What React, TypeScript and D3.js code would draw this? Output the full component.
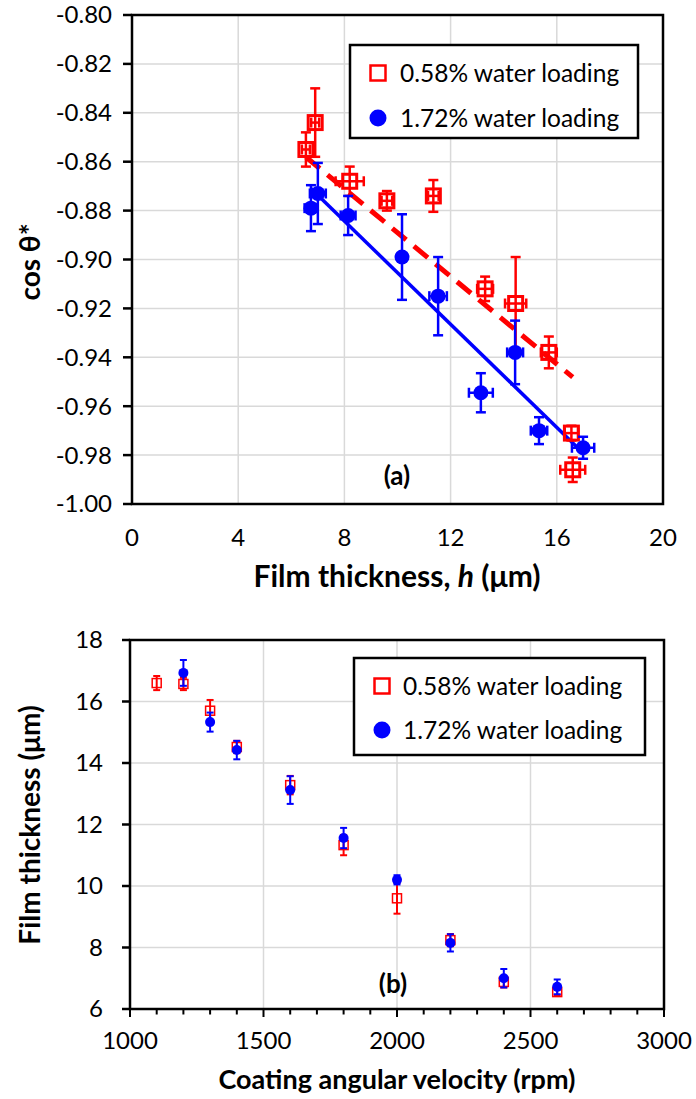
import React, { useRef, useEffect } from "react";
import * as d3 from "d3";

// panel (a): cos theta* against film thickness
const thickLow = [6.55, 6.9, 8.2, 9.6, 11.35, 13.3, 14.45, 15.7, 16.55, 16.6];
const thickLowErr = [0.15, 0.15, 0.53, 0.2, 0.2, 0.3, 0.4, 0.3, 0.25, 0.47];
const cosLow = [-0.855, -0.844, -0.868, -0.876, -0.874, -0.912, -0.918, -0.938, -0.971, -0.986];
const cosLowErr = [0.007, 0.014, 0.006, 0.004, 0.0065, 0.005, 0.019, 0.0065, 0.003, 0.005];

const thickHigh = [6.74, 7.0, 8.14, 10.17, 11.53, 13.14, 14.43, 15.33, 16.99];
const thickHighErr = [0.24, 0.3, 0.28, 0.15, 0.33, 0.45, 0.3, 0.31, 0.42];
const cosHigh = [-0.879, -0.873, -0.882, -0.899, -0.915, -0.9545, -0.938, -0.97, -0.977];
const cosHighErr = [0.0094, 0.0125, 0.008, 0.0175, 0.016, 0.008, 0.013, 0.0055, 0.0045];

// linear trendlines [slope, intercept]
const trendLow = [-0.00896, -0.7994];
const trendHigh = [-0.01055, -0.7999];

const thickTicks = [0, 4, 8, 12, 16, 20];
const cosTicks = [-1.0, -0.98, -0.96, -0.94, -0.92, -0.9, -0.88, -0.86, -0.84, -0.82, -0.8];

// panel (b): film thickness against coating angular velocity
const rpmLow = [1100, 1200, 1300, 1400, 1600, 1800, 2000, 2200, 2400, 2600];
const filmLow = [16.6, 16.57, 15.7, 14.52, 13.28, 11.33, 9.6, 8.24, 6.88, 6.55];
const filmLowErr = [0.23, 0.2, 0.35, 0.2, 0.3, 0.33, 0.5, 0.2, 0.18, 0.1];

const rpmHigh = [1200, 1300, 1400, 1600, 1800, 2000, 2200, 2400, 2600];
const filmHigh = [16.93, 15.33, 14.42, 13.12, 11.56, 10.2, 8.15, 7.0, 6.72];
const filmHighErr = [0.42, 0.31, 0.3, 0.45, 0.33, 0.15, 0.28, 0.3, 0.24];

const rpmTicks = [1000, 1500, 2000, 2500, 3000];
const filmTicks = [6, 8, 10, 12, 14, 16, 18];

const seriesNames = ["0.58% water loading", "1.72% water loading"];

const RED = "#ff0000";
const BLUE = "#0000ff";
const FONT = "Lato, 'Open Sans', sans-serif";
const TICK = 24;
const TITLE = 28;

function App() {
  const ref = useRef(null);

  function drawChart() {
    const svg = d3.select(ref.current);
    svg.selectAll("*").remove();

    // ---------- panel (a) ----------
    const xa = d3.scaleLinear().domain([0, 20]).range([132, 663]);
    const ya = d3.scaleLinear().domain([-1.0, -0.8]).range([504, 15]);
    const ga = svg.append("g");

    drawGrid(ga, xa, ya, thickTicks, cosTicks);

    // trendlines
    const line = d3
      .line()
      .x((d) => xa(d[0]))
      .y((d) => ya(d[1]));
    const lowExt = d3.extent(thickLow);
    const highExt = d3.extent(thickHigh);
    ga.append("path")
      .attr("d", line(lowExt.map((h) => [h, trendLow[0] * h + trendLow[1]])))
      .attr("fill", "none")
      .attr("stroke", RED)
      .attr("stroke-width", 5)
      .attr("stroke-dasharray", "18,10");
    ga.append("path")
      .attr("d", line(highExt.map((h) => [h, trendHigh[0] * h + trendHigh[1]])))
      .attr("fill", "none")
      .attr("stroke", BLUE)
      .attr("stroke-width", 3.5);

    const lowA = thickLow.map((h, i) => ({ x: h, y: cosLow[i], ex: thickLowErr[i], ey: cosLowErr[i] }));
    const highA = thickHigh.map((h, i) => ({ x: h, y: cosHigh[i], ex: thickHighErr[i], ey: cosHighErr[i] }));
    drawErrors(ga, xa, ya, lowA, RED, 2.5, 5);
    drawSquares(ga, xa, ya, lowA, 14, 3);
    drawErrors(ga, xa, ya, highA, BLUE, 2.5, 5);
    drawCircles(ga, xa, ya, highA, 7.5);

    drawFrame(ga, xa, ya);

    // y ticks (outward)
    ga.selectAll(".yt")
      .data(cosTicks)
      .join("line")
      .attr("x1", xa(0) - 9)
      .attr("x2", xa(0))
      .attr("y1", (d) => ya(d))
      .attr("y2", (d) => ya(d))
      .attr("stroke", "#000")
      .attr("stroke-width", 2.5);
    ga.selectAll(".yl")
      .data(cosTicks)
      .join("text")
      .attr("x", 112)
      .attr("y", (d) => ya(d))
      .attr("dy", "0.35em")
      .attr("text-anchor", "end")
      .attr("font-size", TICK)
      .text((d) => d.toFixed(2));
    ga.selectAll(".xl")
      .data(thickTicks)
      .join("text")
      .attr("x", (d) => xa(d))
      .attr("y", 538)
      .attr("dy", "0.35em")
      .attr("text-anchor", "middle")
      .attr("font-size", TICK)
      .text((d) => d);

    const xt = ga
      .append("text")
      .attr("x", 397)
      .attr("y", 587)
      .attr("text-anchor", "middle")
      .attr("font-size", 30)
      .attr("font-weight", "bold");
    xt.append("tspan").text("Film thickness, ");
    xt.append("tspan").attr("font-style", "italic").text("h");
    xt.append("tspan").text(" (μm)");

    ga.append("text")
      .attr("transform", "translate(40,262) rotate(-90)")
      .attr("text-anchor", "middle")
      .attr("font-size", TITLE)
      .attr("font-weight", "bold")
      .text("cos θ*");

    ga.append("text")
      .attr("x", 397)
      .attr("y", 485)
      .attr("text-anchor", "middle")
      .attr("font-size", 26)
      .attr("font-weight", "bold")
      .text("(a)");

    drawLegend(ga, 350, 45, 288, 93, 378, 73, 118, 400, 17);

    // ---------- panel (b) ----------
    const xb = d3.scaleLinear().domain([1000, 3000]).range([130, 664]);
    const yb = d3.scaleLinear().domain([6, 18]).range([1009, 640]);
    const gb = svg.append("g");

    drawGrid(gb, xb, yb, rpmTicks, filmTicks);

    const lowB = rpmLow.map((r, i) => ({ x: r, y: filmLow[i], ex: 0, ey: filmLowErr[i] }));
    const highB = rpmHigh.map((r, i) => ({ x: r, y: filmHigh[i], ex: 0, ey: filmHighErr[i] }));
    drawErrors(gb, xb, yb, lowB, RED, 2, 3.5);
    drawSquares(gb, xb, yb, lowB, 9, 1.5);
    drawErrors(gb, xb, yb, highB, BLUE, 2, 3.5);
    drawCircles(gb, xb, yb, highB, 5);

    drawFrame(gb, xb, yb);

    const minor = d3.range(1000, 3001, 100);
    gb.selectAll(".xm")
      .data(minor)
      .join("line")
      .attr("x1", (d) => xb(d))
      .attr("x2", (d) => xb(d))
      .attr("y1", yb(6))
      .attr("y2", (d) => yb(6) + (d % 500 === 0 ? 8 : 5.5))
      .attr("stroke", "#000")
      .attr("stroke-width", 2);
    gb.selectAll(".yt")
      .data(filmTicks)
      .join("line")
      .attr("x1", xb(1000) - 8)
      .attr("x2", xb(1000))
      .attr("y1", (d) => yb(d))
      .attr("y2", (d) => yb(d))
      .attr("stroke", "#000")
      .attr("stroke-width", 2.5);
    gb.selectAll(".yl")
      .data(filmTicks)
      .join("text")
      .attr("x", 103)
      .attr("y", (d) => yb(d))
      .attr("dy", "0.35em")
      .attr("text-anchor", "end")
      .attr("font-size", TICK)
      .text((d) => d);
    gb.selectAll(".xl")
      .data(rpmTicks)
      .join("text")
      .attr("x", (d) => xb(d))
      .attr("y", 1041)
      .attr("dy", "0.35em")
      .attr("text-anchor", "middle")
      .attr("font-size", TICK)
      .text((d) => d);

    gb.append("text")
      .attr("x", 397)
      .attr("y", 1089)
      .attr("text-anchor", "middle")
      .attr("font-size", 27)
      .attr("font-weight", "bold")
      .text("Coating angular velocity (rpm)");

    gb.append("text")
      .attr("transform", "translate(40,825) rotate(-90)")
      .attr("text-anchor", "middle")
      .attr("font-size", TITLE)
      .attr("font-weight", "bold")
      .text("Film thickness (μm)");

    gb.append("text")
      .attr("x", 393)
      .attr("y", 993)
      .attr("text-anchor", "middle")
      .attr("font-size", 26)
      .attr("font-weight", "bold")
      .text("(b)");

    drawLegend(gb, 354, 658, 291, 97, 382, 686, 730, 403, 17);
  }

  function drawGrid(g, x, y, xt, yt) {
    g.append("g")
      .selectAll("line")
      .data(xt)
      .join("line")
      .attr("x1", (d) => x(d))
      .attr("x2", (d) => x(d))
      .attr("y1", y.range()[0])
      .attr("y2", y.range()[1])
      .attr("stroke", "#d9d9d9")
      .attr("stroke-width", 1.5);
    g.append("g")
      .selectAll("line")
      .data(yt)
      .join("line")
      .attr("y1", (d) => y(d))
      .attr("y2", (d) => y(d))
      .attr("x1", x.range()[0])
      .attr("x2", x.range()[1])
      .attr("stroke", "#d9d9d9")
      .attr("stroke-width", 1.5);
  }

  function drawFrame(g, x, y) {
    const [x0, x1] = x.range();
    const [y0, y1] = y.range();
    g.append("rect")
      .attr("x", x0)
      .attr("y", y1)
      .attr("width", x1 - x0)
      .attr("height", y0 - y1)
      .attr("fill", "none")
      .attr("stroke", "#000")
      .attr("stroke-width", 2.5);
  }

  function drawErrors(g, x, y, data, color, w, cap) {
    const eg = g.append("g").attr("stroke", color).attr("stroke-width", w);
    data.forEach((d) => {
      const cx = x(d.x);
      const cy = y(d.y);
      const yt = y(d.y + d.ey);
      const yb = y(d.y - d.ey);
      eg.append("line").attr("x1", cx).attr("x2", cx).attr("y1", yt).attr("y2", yb);
      eg.append("line").attr("x1", cx - cap).attr("x2", cx + cap).attr("y1", yt).attr("y2", yt);
      eg.append("line").attr("x1", cx - cap).attr("x2", cx + cap).attr("y1", yb).attr("y2", yb);
      if (d.ex > 0) {
        const xl = x(d.x - d.ex);
        const xr = x(d.x + d.ex);
        eg.append("line").attr("x1", xl).attr("x2", xr).attr("y1", cy).attr("y2", cy);
        eg.append("line").attr("x1", xl).attr("x2", xl).attr("y1", cy - cap).attr("y2", cy + cap);
        eg.append("line").attr("x1", xr).attr("x2", xr).attr("y1", cy - cap).attr("y2", cy + cap);
      }
    });
  }

  function drawSquares(g, x, y, data, size, w) {
    g.append("g")
      .selectAll("rect")
      .data(data)
      .join("rect")
      .attr("x", (d) => x(d.x) - size / 2)
      .attr("y", (d) => y(d.y) - size / 2)
      .attr("width", size)
      .attr("height", size)
      .attr("fill", "none")
      .attr("stroke", RED)
      .attr("stroke-width", w);
  }

  function drawCircles(g, x, y, data, r) {
    g.append("g")
      .selectAll("circle")
      .data(data)
      .join("circle")
      .attr("cx", (d) => x(d.x))
      .attr("cy", (d) => y(d.y))
      .attr("r", r)
      .attr("fill", BLUE);
  }

  function drawLegend(g, bx, by, bw, bh, mx, y1, y2, tx, size) {
    g.append("rect")
      .attr("x", bx)
      .attr("y", by)
      .attr("width", bw)
      .attr("height", bh)
      .attr("fill", "#fff")
      .attr("stroke", "#000")
      .attr("stroke-width", 2.5);
    g.append("rect")
      .attr("x", mx - size / 2 + 1)
      .attr("y", y1 - size / 2 + 1)
      .attr("width", size - 2)
      .attr("height", size - 2)
      .attr("fill", "none")
      .attr("stroke", RED)
      .attr("stroke-width", 2.5);
    g.append("circle").attr("cx", mx).attr("cy", y2).attr("r", size / 2).attr("fill", BLUE);
    [y1, y2].forEach((yy, i) => {
      g.append("text")
        .attr("x", tx)
        .attr("y", yy)
        .attr("dy", "0.35em")
        .attr("font-size", 24.5)
        .text(seriesNames[i]);
    });
  }

  useEffect(() => {
    drawChart();
  }, []);

  return (
    <svg
      ref={ref}
      width={696}
      height={1099}
      style={{ position: "absolute", left: 0, top: 0, background: "#fff" }}
      fontFamily={FONT}
      fill="#000"
    />
  );
}

export default App;
